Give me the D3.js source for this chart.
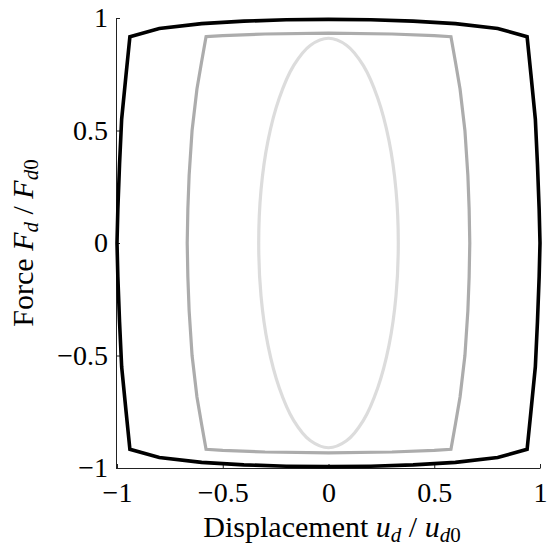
<!DOCTYPE html>
<html>
<head>
<meta charset="utf-8">
<script src="https://cdn.jsdelivr.net/npm/d3@7"></script>
<style>
  body { margin: 0; background: #fff; }
  text { font-family: "Liberation Serif", "DejaVu Serif", serif; fill: #000; }
  .axis path, .axis line { stroke: #222; stroke-width: 1; }
</style>
</head>
<body>
<svg id="chart"></svg>
<script>
var width = 549,
  height = 550;

var xTicks = [-1, -0.5, 0, 0.5, 1];
var yTicks = [-1, -0.5, 0, 0.5, 1];
var tickLabels = ['\u22121', '\u22120.5', '0', '0.5', '1'];

// loops, [displacement, force]
var loopLight = [
  [0.33, 0], [0.319, 0.236], [0.286, 0.455], [0.233, 0.643], [0.165, 0.788], [0.085, 0.879],
  [0, 0.91], [-0.085, 0.879], [-0.165, 0.788], [-0.233, 0.643], [-0.286, 0.455], [-0.319, 0.236],
  [-0.33, 0], [-0.319, -0.236], [-0.286, -0.455], [-0.233, -0.643], [-0.165, -0.788], [-0.085, -0.879],
  [0, -0.91], [0.085, -0.879], [0.165, -0.788], [0.233, -0.643], [0.286, -0.455], [0.319, -0.236]
];

var loopGray = [
  [-0.579, 0.917], [-0.5, 0.922], [-0.3, 0.929], [0, 0.933], [0.3, 0.929], [0.5, 0.922], [0.579, 0.917],
  [0.601, 0.8], [0.622, 0.684], [0.645, 0.5], [0.659, 0.3], [0.665, 0.15], [0.668, 0],
  [0.665, -0.15], [0.659, -0.3], [0.645, -0.5], [0.622, -0.684], [0.601, -0.8], [0.579, -0.917],
  [0.5, -0.922], [0.3, -0.929], [0, -0.933], [-0.3, -0.929], [-0.5, -0.922], [-0.579, -0.917],
  [-0.601, -0.8], [-0.622, -0.684], [-0.645, -0.5], [-0.659, -0.3], [-0.665, -0.15], [-0.668, 0],
  [-0.665, 0.15], [-0.659, 0.3], [-0.645, 0.5], [-0.622, 0.684], [-0.601, 0.8]
];

var loopBlack = [
  [-0.939, 0.917], [-0.8, 0.953], [-0.6, 0.975], [-0.4, 0.986], [-0.2, 0.992], [0, 0.994],
  [0.2, 0.992], [0.4, 0.986], [0.6, 0.975], [0.8, 0.953], [0.939, 0.917],
  [0.957, 0.75], [0.978, 0.55], [0.988, 0.35], [0.996, 0.15], [1, 0],
  [0.996, -0.15], [0.988, -0.35], [0.978, -0.55], [0.957, -0.75], [0.939, -0.917],
  [0.8, -0.953], [0.6, -0.975], [0.4, -0.986], [0.2, -0.992], [0, -0.994],
  [-0.2, -0.992], [-0.4, -0.986], [-0.6, -0.975], [-0.8, -0.953], [-0.939, -0.917],
  [-0.957, -0.75], [-0.978, -0.55], [-0.988, -0.35], [-0.996, -0.15], [-1, 0],
  [-0.996, 0.15], [-0.988, 0.35], [-0.978, 0.55], [-0.957, 0.75]
];

var svg = d3.select('#chart')
  .attr('width', width)
  .attr('height', height);

var x = d3.scaleLinear()
  .domain([-1, 1])
  .range([117, 540]);

var y = d3.scaleLinear()
  .domain([-1, 1])
  .range([468, 18]);

// axes, ticks pointing inward
svg.append('g')
  .attr('class', 'axis')
  .attr('transform', 'translate(0,468)')
  .call(d3.axisBottom(x)
    .tickValues(xTicks)
    .tickSizeInner(-4)
    .tickSizeOuter(0)
    .tickPadding(14)
    .tickFormat(function(d, i) { return tickLabels[i]; }))
  .selectAll('text')
  .attr('font-size', 28);

svg.append('g')
  .attr('class', 'axis')
  .attr('transform', 'translate(116,0)')
  .call(d3.axisLeft(y)
    .tickValues(yTicks)
    .tickSizeInner(-4)
    .tickSizeOuter(0)
    .tickPadding(8)
    .tickFormat(function(d, i) { return tickLabels[i]; }))
  .selectAll('text')
  .attr('font-size', 28);

svg.selectAll('.axis').attr('font-family', null);

var line = d3.line()
  .x(function(d) { return x(d[0]); })
  .y(function(d) { return y(d[1]); });

svg.append('path')
  .datum(loopLight)
  .attr('d', line.curve(d3.curveCatmullRomClosed))
  .attr('fill', 'none')
  .attr('stroke', '#dcdcdc')
  .attr('stroke-width', 3.2);

svg.append('path')
  .datum(loopGray)
  .attr('d', line.curve(d3.curveLinearClosed))
  .attr('fill', 'none')
  .attr('stroke', '#acacac')
  .attr('stroke-width', 3.2);

svg.append('path')
  .datum(loopBlack)
  .attr('d', line.curve(d3.curveLinearClosed))
  .attr('fill', 'none')
  .attr('stroke', '#000')
  .attr('stroke-width', 3.6);

// axis titles
var xt = svg.append('text')
  .attr('x', 332)
  .attr('y', 537)
  .attr('text-anchor', 'middle')
  .attr('font-size', 30);
xt.append('tspan').text('Displacement ');
xt.append('tspan').attr('font-style', 'italic').text('u');
xt.append('tspan').attr('font-style', 'italic').attr('font-size', 21).attr('dy', 5).text('d');
xt.append('tspan').attr('dy', -5).text(' / ');
xt.append('tspan').attr('font-style', 'italic').text('u');
xt.append('tspan').attr('font-style', 'italic').attr('font-size', 21).attr('dy', 5).text('d');
xt.append('tspan').attr('font-size', 21).text('0');

var yt = svg.append('text')
  .attr('transform', 'translate(33,243) rotate(-90)')
  .attr('text-anchor', 'middle')
  .attr('font-size', 30);
yt.append('tspan').text('Force ');
yt.append('tspan').attr('font-style', 'italic').text('F');
yt.append('tspan').attr('font-style', 'italic').attr('font-size', 21).attr('dy', 5).text('d');
yt.append('tspan').attr('dy', -5).text(' / ');
yt.append('tspan').attr('font-style', 'italic').text('F');
yt.append('tspan').attr('font-style', 'italic').attr('font-size', 21).attr('dy', 5).text('d');
yt.append('tspan').attr('font-size', 21).text('0');
</script>
</body>
</html>
